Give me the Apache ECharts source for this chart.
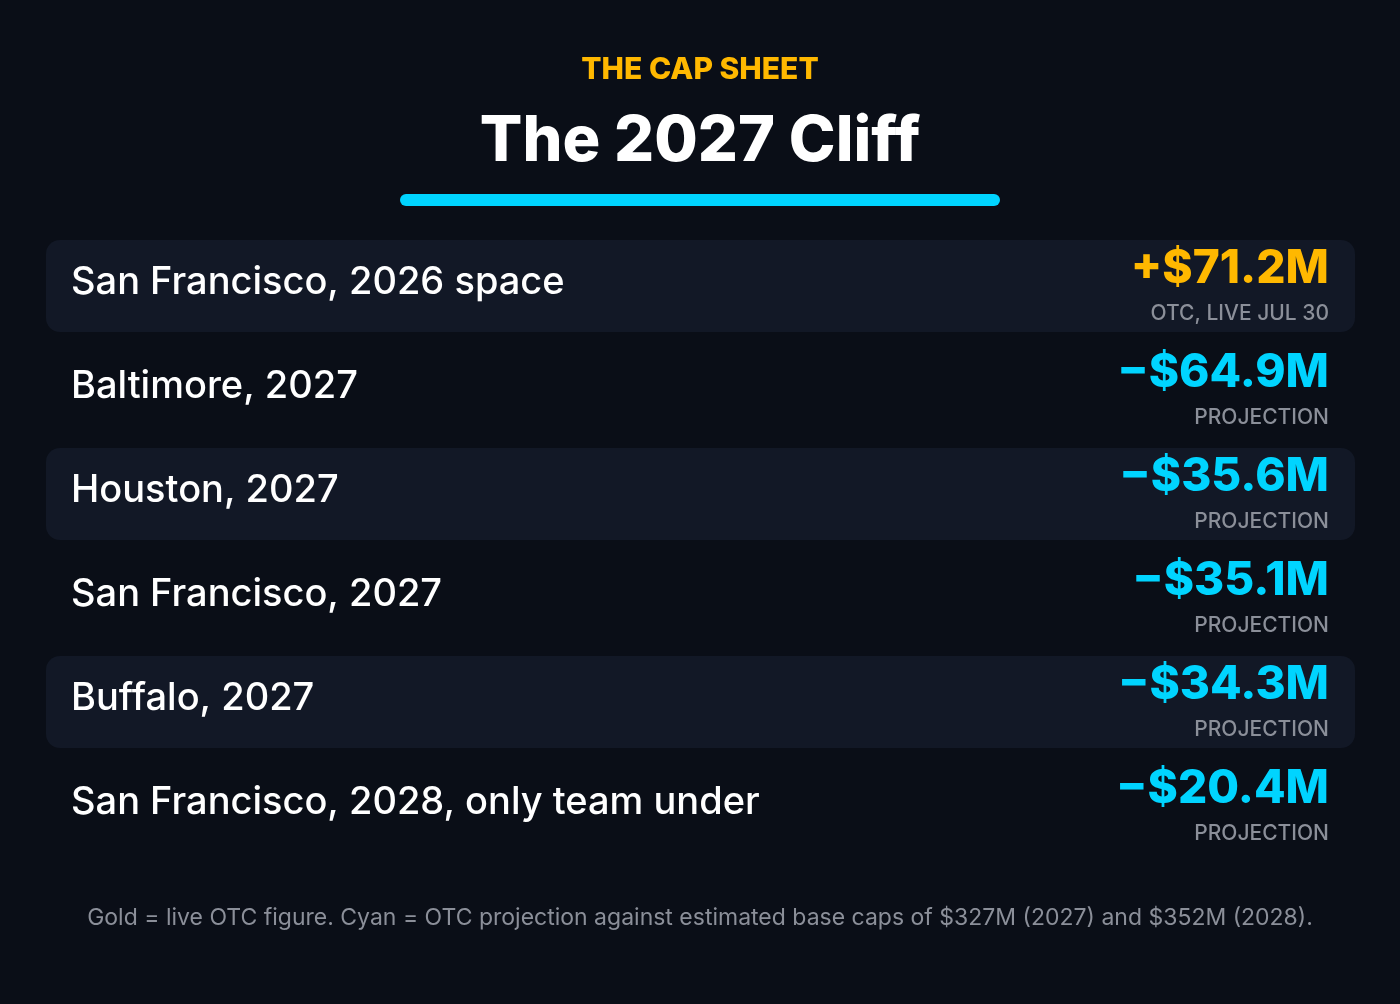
<!DOCTYPE html>
<html>
<head>
    <title>The 2027 Cliff</title>
    <script src="https://cdn.jsdelivr.net/npm/echarts@6.0.0/dist/echarts.min.js"></script>
    <style>
        body { margin: 0; background: #0a0e17; overflow: hidden; }
        #chart { width: 1400px; height: 1004px; }
    </style>
</head>
<body>
    <div id="chart"></div>
    <script>
        // Rows, top to bottom
        const teams = [
            'San Francisco, 2026 space',
            'Baltimore, 2027',
            'Houston, 2027',
            'San Francisco, 2027',
            'Buffalo, 2027',
            'San Francisco, 2028, only team under'
        ];
        const capSpace = [71.2, -64.9, -35.6, -35.1, -34.3, -20.4];
        const notes = ['OTC, LIVE JUL 30', 'PROJECTION', 'PROJECTION', 'PROJECTION', 'PROJECTION', 'PROJECTION'];

        const GOLD = '#ffb800';
        const CYAN = '#00d4ff';
        const FONT = 'Inter, "Noto Sans", sans-serif';

        const fmt = v => (v >= 0 ? '+' : '\u2212') + '$' + Math.abs(v).toFixed(1) + 'M';

        const chart = echarts.init(document.getElementById('chart'));

        function renderRow(params, api) {
            const i = params.dataIndex;
            const c = api.coord([0, i]);
            const left = params.coordSys.x;
            const width = params.coordSys.width;
            const right = left + width;
            const v = capSpace[i];
            const children = [];
            // alternate rows get the lighter band
            if (i % 2 === 0) {
                children.push({
                    type: 'rect',
                    shape: { x: left, y: c[1] - 46, width: width, height: 92, r: 14 },
                    style: { fill: '#121826' }
                });
            }
            children.push({
                type: 'text',
                style: {
                    x: left + 25, y: c[1] - 3, text: teams[i],
                    fill: '#ffffff', font: '500 38px ' + FONT,
                    align: 'left', verticalAlign: 'middle'
                }
            });
            children.push({
                type: 'text',
                style: {
                    x: right - 26, y: c[1] - 17, text: fmt(v),
                    fill: v >= 0 ? GOLD : CYAN, font: '800 46px ' + FONT,
                    align: 'right', verticalAlign: 'middle'
                }
            });
            children.push({
                type: 'text',
                style: {
                    x: right - 26, y: c[1] + 28, text: notes[i],
                    fill: '#8b8f99', font: '500 21px ' + FONT,
                    align: 'right', verticalAlign: 'middle'
                }
            });
            return { type: 'group', children: children };
        }

        chart.setOption({
            backgroundColor: '#0a0e17',
            animation: false,
            title: [
                {
                    text: 'THE CAP SHEET',
                    left: 'center', top: 36,
                    textStyle: { color: GOLD, fontFamily: FONT, fontSize: 30, fontWeight: 800 }
                },
                {
                    text: 'The 2027 Cliff',
                    left: 'center', top: 76,
                    textStyle: { color: '#ffffff', fontFamily: FONT, fontSize: 63, fontWeight: 800 }
                },
                {
                    text: 'Gold = live OTC figure. Cyan = OTC projection against estimated base caps of $327M (2027) and $352M (2028).',
                    left: 'center', top: 892,
                    textStyle: { color: '#8b8f99', fontFamily: FONT, fontSize: 23, fontWeight: 400 }
                }
            ],
            graphic: [{
                type: 'rect',
                shape: { x: 400, y: 194, width: 600, height: 12, r: 6 },
                style: { fill: CYAN }
            }],
            grid: { left: 46, right: 45, top: 234, height: 624 },
            xAxis: { type: 'value', min: 0, max: 1, show: false },
            yAxis: { type: 'category', data: teams, inverse: true, show: false },
            series: [{
                type: 'custom',
                renderItem: renderRow,
                data: capSpace.map((v, i) => [0, i]),
                encode: { x: 0, y: 1 }
            }]
        });
    </script>
</body>
</html>
